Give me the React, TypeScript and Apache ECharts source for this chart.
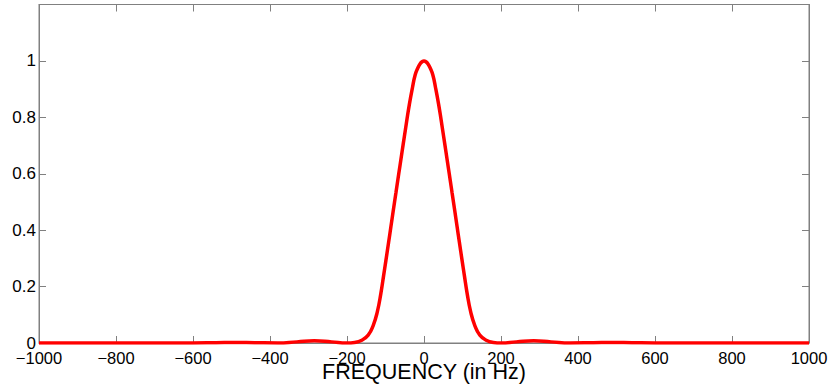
import React, { useEffect, useRef } from "react";
import * as echarts from "echarts";

// Frequency (Hz) sample points
const freqs = [
  -1000, -800, -600, -540, -490, -440, -380, -330, -285, -240, -200, -180, -163, -145,
  -132, -121, -112, -105, -99, -92, -86, -80, -73, -68, -63, -57, -51, -45, -38, -30,
  -23, -16, -10, -5, 0, 5, 10, 16, 23, 30, 38, 45, 51, 57, 63, 68, 73, 80, 86, 92, 99,
  105, 112, 121, 132, 145, 163, 180, 200, 240, 285, 330, 380, 440, 490, 540, 600, 800,
  1000,
];
// Normalised magnitude at those frequencies
const magnitudes = [
  0, 0, 0, 0.001, 0.002, 0.001, 0, 0.004, 0.008, 0.004, 0, 0.002, 0.009, 0.028,
  0.062, 0.112, 0.176, 0.238, 0.292, 0.356, 0.412, 0.468, 0.532, 0.578, 0.623, 0.678,
  0.732, 0.786, 0.846, 0.905, 0.95, 0.975, 0.99, 0.997, 1.0, 0.997, 0.99, 0.975,
  0.95, 0.905, 0.846, 0.786, 0.732, 0.678, 0.623, 0.578, 0.532, 0.468, 0.412, 0.356,
  0.292, 0.238, 0.176, 0.112, 0.062, 0.028, 0.009, 0.002, 0, 0.004, 0.008, 0.004, 0,
  0.001, 0.002, 0.001, 0, 0, 0,
];

const xAxisTitle = "FREQUENCY (in Hz)";
const xMin = -1000;
const xMax = 1000;
const xStep = 200;
const yMin = 0;
const yMax = 1.2;
const yStep = 0.2;

const FONT = "'Liberation Sans', Arial, Helvetica, sans-serif";
const AXIS_GRAY = "#808080";

export default function App() {
  const ref = useRef<HTMLDivElement>(null);

  useEffect(() => {
    if (!ref.current) return;
    const chart = echarts.init(ref.current, null, { renderer: "svg" });
    const data = freqs.map((f, i) => [f, magnitudes[i]]);
    const minus = (v: number) => String(v).replace("-", "\u2212");
    const line = { show: true, onZero: false, lineStyle: { color: AXIS_GRAY, width: 1 } };
    const tick = { show: true, inside: true, length: 7, lineStyle: { color: AXIS_GRAY } };

    chart.setOption({
      animation: false,
      backgroundColor: "#ffffff",
      grid: {
        left: 39,
        right: 21,
        top: 4.5,
        bottom: 45,
        outerBoundsMode: "none",
        containLabel: false,
        show: true,
        borderColor: AXIS_GRAY,
        borderWidth: 1,
        backgroundColor: "transparent",
      },
      xAxis: [
        {
          type: "value",
          min: xMin,
          max: xMax,
          interval: xStep,
          position: "bottom",
          name: xAxisTitle,
          nameLocation: "middle",
          nameGap: 19.75,
          nameMoveOverlap: false,
          nameTextStyle: { fontFamily: FONT, fontSize: 21.5, lineHeight: 18, color: "#000" },
          axisLine: line,
          axisTick: tick,
          axisLabel: {
            fontFamily: FONT,
            fontSize: 16.5,
            lineHeight: 12,
            color: "#000",
            margin: 8.5,
            hideOverlap: false,
            formatter: (v: number) => minus(v),
          },
          splitLine: { show: false },
        },
        {
          type: "value",
          min: xMin,
          max: xMax,
          interval: xStep,
          position: "top",
          axisLine: line,
          axisTick: tick,
          axisLabel: { show: false },
          splitLine: { show: false },
        },
      ],
      yAxis: [
        {
          type: "value",
          min: yMin,
          max: yMax,
          interval: yStep,
          position: "left",
          axisLine: line,
          axisTick: tick,
          axisLabel: {
            fontFamily: FONT,
            fontSize: 17,
            lineHeight: 9,
            color: "#000",
            margin: 3,
            formatter: (v: number) => (v > 1.1 ? "" : String(Math.round(v * 10) / 10)),
          },
          splitLine: { show: false },
        },
        {
          type: "value",
          min: yMin,
          max: yMax,
          interval: yStep,
          position: "right",
          axisLine: line,
          axisTick: tick,
          axisLabel: { show: false },
          splitLine: { show: false },
        },
      ],
      series: [
        {
          type: "line",
          data,
          xAxisIndex: 0,
          yAxisIndex: 0,
          showSymbol: false,
          smooth: 0.5,
          lineStyle: { color: "#ff0000", width: 3.5 },
          z: 5,
        },
      ],
    });
    return () => chart.dispose();
  }, []);

  return (
    <div
      ref={ref}
      style={{ position: "fixed", left: 0, top: 0, width: 830, height: 388, background: "#fff" }}
    />
  );
}
